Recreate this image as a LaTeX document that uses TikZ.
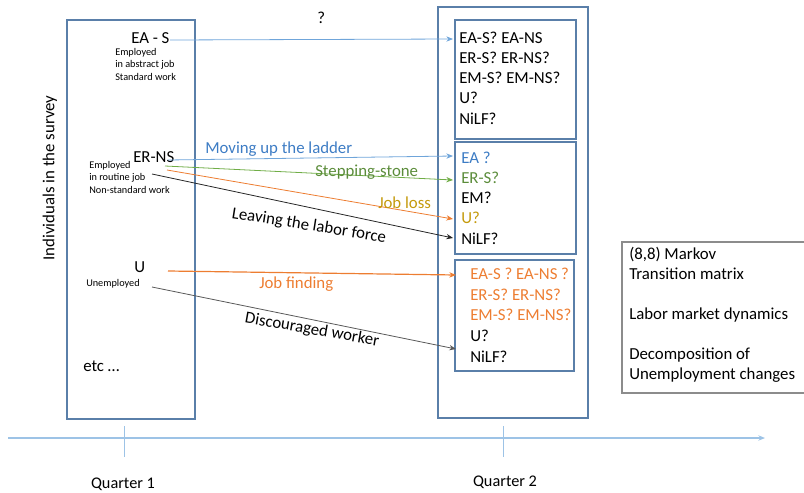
\documentclass[tikz,border=0pt]{standalone}
\usepackage{fontspec}
\setmainfont{Carlito}
\usetikzlibrary{arrows.meta,fit}
\definecolor{boxblue}{HTML}{5A7FA9}
\definecolor{lineblue}{HTML}{6FA5DA}
\definecolor{textblue}{HTML}{3D7CC4}
\definecolor{linegreen}{HTML}{70AD47}
\definecolor{textgreen}{HTML}{5B8C3A}
\definecolor{orng}{HTML}{ED7D31}
\definecolor{gold}{HTML}{C49A0C}
\definecolor{axisblue}{HTML}{9DC3E6}
\definecolor{graybox}{HTML}{8C8C8C}
\begin{document}
\begin{tikzpicture}[x=0.75pt,y=-0.75pt,
  big/.style={font=\fontsize{12.6}{15}\selectfont, inner sep=0, anchor=base west},
  small/.style={font=\fontsize{7.7}{9}\selectfont, inner sep=0, anchor=base west},
  frame/.style={draw=boxblue, line width=0.9pt, inner sep=0},
  inframe/.style={draw=boxblue, line width=0.8pt, inner sep=0},
  tip/.style={-{Stealth[length=5pt,width=4pt]}, line width=0.6pt}]
\useasboundingbox (0,0) rectangle (804,493);

% frames
\node[frame, fit={(67,20) (195,419)}] (q1) {};
\node[frame, fit={(438,7) (588,418)}] (q2) {};
\node[inframe, fit={(455,20) (576,139)}] (b1) {};
\node[inframe, fit={(455,142) (576,254)}] (b2) {};
\node[inframe, fit={(455,260) (574,371)}] (b3) {};

% vertical label
\node[font=\fontsize{12.6}{15}\selectfont, rotate=90, inner sep=0] (ind) at (50,178) {Individuals in the survey};
\node[big] (qm) at (317,23) {?};

% left labels
\node[big] (eas) at (131,43) {EA - S};
\node[small] (eas1) at (115,55) {Employed};
\node[small] (eas2) at (115,67.5) {in abstract job};
\node[small] (eas3) at (115,80) {Standard work};
\node[big] (erns) at (133,162) {ER-NS};
\node[small] (erns1) at (89,168) {Employed};
\node[small] (erns2) at (89,180.5) {in routine job};
\node[small] (erns3) at (89,193) {Non-standard work};
\node[big] (u) at (134,272) {U};
\node[small] (u1) at (86,286) {Unemployed};
\node[big] (etc) at (83,371) {etc …};

% box 1
\node[big] (b1a) at (459,43) {EA-S? EA-NS};
\node[big] (b1b) at (459,63) {ER-S? ER-NS?};
\node[big] (b1c) at (459,83) {EM-S? EM-NS?};
\node[big] (b1d) at (459,103) {U?};
\node[big] (b1e) at (459,124) {NiLF?};
% box 2
\node[big, text=textblue] (b2a) at (461,163) {EA ?};
\node[big, text=textgreen] (b2b) at (461,183) {ER-S?};
\node[big] (b2c) at (461,203) {EM?};
\node[big, text=gold] (b2d) at (461,223) {U?};
\node[big] (b2e) at (461,244) {NiLF?};
% box 3
\node[big, text=orng] (b3a) at (470,279) {EA-S ? EA-NS ?};
\node[big, text=orng] (b3b) at (470,300) {ER-S? ER-NS?};
\node[big, text=orng] (b3c) at (470,320) {EM-S? EM-NS?};
\node[big] (b3d) at (470,341) {U?};
\node[big] (b3e) at (470,362) {NiLF?};

% right info box
\node[big, anchor=north west, align=left] (info) at (629,247) {(8,8) Markov\\Transition matrix\\[15pt]Labor market dynamics\\[15pt]Decomposition of\\Unemployment changes};
\draw[graybox, line width=0.8pt] (804,242) -- (622,242) -- (622,393) -- (804,393);

% connector endpoints
\coordinate (s0) at (170,40);
\coordinate (t0) at (453,39);
\coordinate (s1) at (168,160);
\coordinate (t1) at (453,156);
\coordinate (s2) at (165,166);
\coordinate (t2) at (453,180);
\coordinate (s3) at (167,170);
\coordinate (t3) at (453,219);
\coordinate (s4) at (152,174);
\coordinate (t4) at (453,238);
\coordinate (s5) at (168,271);
\coordinate (t5) at (456,275);
\coordinate (s6) at (152,287);
\coordinate (t6) at (456,349);

\draw[tip, lineblue] (s0) -- (t0);
\draw[tip, lineblue] (s1) -- (t1);
\draw[tip, linegreen] (s2) -- (t2);
\draw[tip, orng] (s3) -- (t3);
\draw[tip, black!85] (s4) -- (t4);
\draw[tip, orng, line width=0.9pt] (s5) -- (t5);
\draw[tip, black!65] (s6) -- (t6);

% connector labels
\node[big, text=textblue] (lmove) at (205,153) {Moving up the ladder};
\node[big, text=textgreen] (lstep) at (315,176) {Stepping-stone};
\node[big, text=gold] (lloss) at (378,208.5) {Job loss};
\node[font=\fontsize{12.6}{15}\selectfont, inner sep=0, rotate=-9] (lleave) at (309,226) {Leaving the labor force};
\node[big, text=orng] (lfind) at (259,288) {Job finding};
\node[font=\fontsize{12.6}{15}\selectfont, inner sep=0, rotate=-10] (ldisc) at (312,330) {Discouraged worker};

% time axis
\coordinate (ax0) at (8,438);
\coordinate (ax1) at (765,438);
\draw[axisblue, line width=1.2pt, -{Stealth[length=5pt,width=4pt]}] (ax0) -- (ax1);
\coordinate (k1a) at (124,426);
\coordinate (k1b) at (124,457);
\coordinate (k2a) at (503,426);
\coordinate (k2b) at (503,457);
\draw[axisblue, line width=0.6pt] (k1a) -- (k1b);
\draw[axisblue, line width=0.6pt] (k2a) -- (k2b);
\node[font=\fontsize{12.2}{15}\selectfont, inner sep=0] (qt1) at (123,484) {Quarter 1};
\node[font=\fontsize{12.2}{15}\selectfont, inner sep=0] (qt2) at (505,482) {Quarter 2};
\end{tikzpicture}
\end{document}
